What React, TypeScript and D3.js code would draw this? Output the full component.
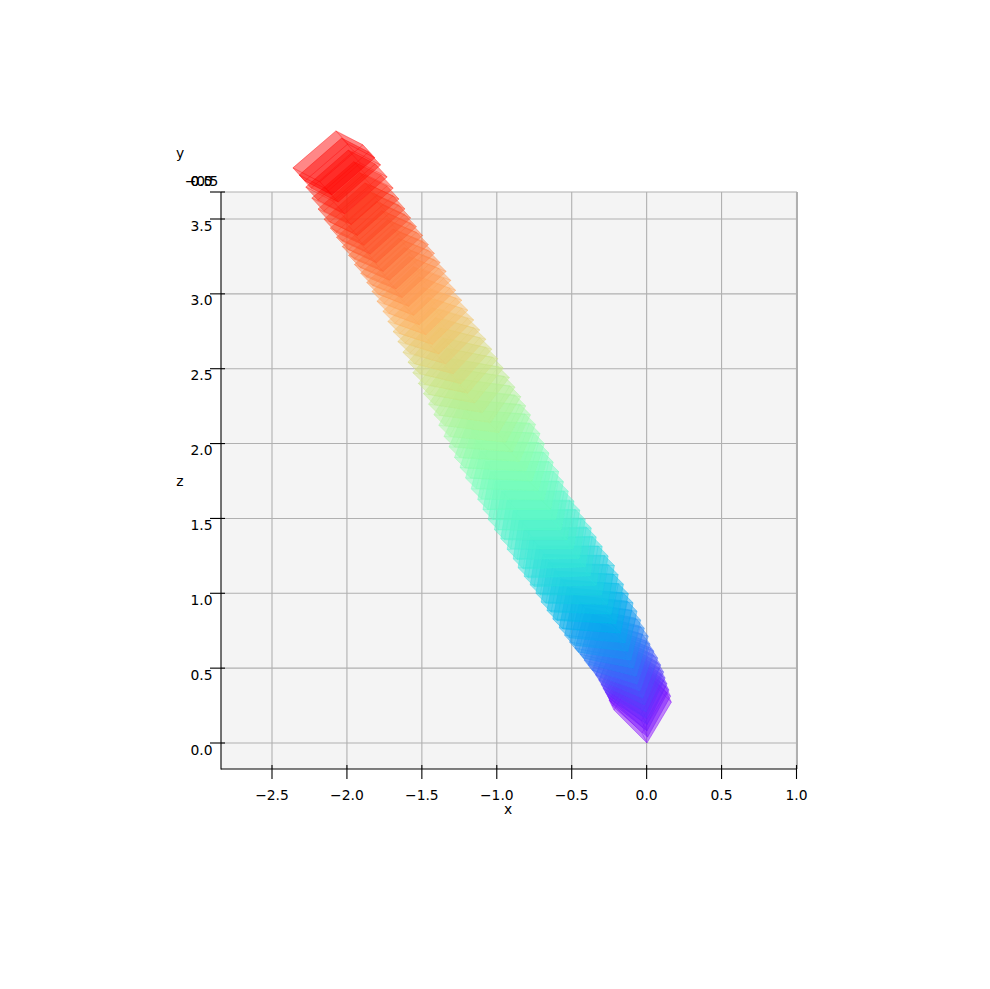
import React from "react";
import * as d3 from "d3";

const boxX = [-0.043,-0.05,-0.063,-0.077,-0.09,-0.103,-0.123,-0.143,-0.17,-0.197,-0.216,-0.247,-0.277,-0.306,-0.337,-0.374,-0.41,-0.447,-0.477,-0.517,-0.557,-0.597,-0.63,-0.67,-0.71,-0.75,-0.79,-0.824,-0.857,-0.897,-0.93,-0.964,-0.997,-1.03,-1.064,-1.097,-1.13,-1.167,-1.203,-1.24,-1.277,-1.313,-1.35,-1.387,-1.423,-1.46,-1.497,-1.537,-1.57,-1.603,-1.643,-1.683,-1.723,-1.763,-1.803,-1.843,-1.883,-1.923,-1.963,-2.003,-2.047,-2.087];
const boxZ = [0.28,0.313,0.347,0.38,0.413,0.447,0.487,0.527,0.567,0.607,0.653,0.7,0.747,0.8,0.853,0.913,0.973,1.033,1.093,1.153,1.213,1.273,1.333,1.393,1.46,1.52,1.587,1.653,1.72,1.787,1.853,1.92,1.987,2.053,2.12,2.187,2.253,2.32,2.387,2.453,2.52,2.587,2.653,2.72,2.787,2.853,2.92,2.987,3.053,3.113,3.173,3.233,3.293,3.353,3.413,3.473,3.533,3.6,3.673,3.747,3.827,3.875];
const edgePX = [0.163,0.153,0.147,0.133,0.127,0.117,0.107,0.1,0.093,0.087,0.08,0.073,0.067,0.06,0.053,0.053,0.05,0.047,0.047,0.043,0.04,0.04,0.04,0.04,0.043,0.047,0.047,0.05,0.053,0.063,0.073,0.083,0.093,0.107,0.12,0.133,0.147,0.163,0.18,0.19,0.2,0.207,0.217,0.227,0.233,0.237,0.24,0.243,0.247,0.25,0.253,0.257,0.26,0.263,0.267,0.27,0.273,0.277,0.28,0.283,0.283,0.287];
const edgePZ = [0.273,0.273,0.273,0.27,0.27,0.267,0.267,0.267,0.267,0.267,0.267,0.267,0.267,0.267,0.267,0.263,0.263,0.263,0.26,0.26,0.26,0.26,0.26,0.26,0.257,0.257,0.257,0.253,0.253,0.253,0.25,0.25,0.25,0.247,0.247,0.243,0.24,0.237,0.233,0.233,0.23,0.23,0.23,0.227,0.227,0.227,0.23,0.23,0.233,0.233,0.233,0.237,0.237,0.24,0.24,0.24,0.243,0.243,0.243,0.247,0.247,0.247];
const edgeQX = [0.22,0.233,0.24,0.253,0.26,0.273,0.28,0.287,0.293,0.3,0.32,0.333,0.347,0.36,0.373,0.384,0.393,0.4,0.41,0.41,0.414,0.414,0.414,0.414,0.417,0.417,0.42,0.42,0.42,0.417,0.414,0.41,0.407,0.4,0.387,0.374,0.36,0.34,0.32,0.304,0.287,0.273,0.257,0.24,0.226,0.217,0.207,0.203,0.2,0.2,0.197,0.197,0.193,0.193,0.187,0.187,0.187,0.183,0.183,0.18,0.18,0.18];
const edgeQZ = [-0.22,-0.207,-0.193,-0.173,-0.16,-0.147,-0.133,-0.12,-0.107,-0.093,-0.08,-0.067,-0.053,-0.04,-0.033,-0.027,-0.02,-0.013,-0.007,0,0.007,0.013,0.013,0.007,0,0,0,0,0,-0.007,-0.013,-0.02,-0.02,-0.027,-0.033,-0.04,-0.047,-0.05,-0.053,-0.057,-0.06,-0.067,-0.067,-0.073,-0.073,-0.073,-0.077,-0.077,-0.08,-0.08,-0.08,-0.08,-0.083,-0.083,-0.087,-0.087,-0.087,-0.09,-0.09,-0.093,-0.093,-0.093];
const edgeRX = [0.033,0.033,0.037,0.04,0.04,0.043,0.047,0.047,0.05,0.053,0.053,0.057,0.06,0.063,0.067,0.067,0.067,0.067,0.067,0.067,0.067,0.067,0.067,0.067,0.067,0.067,0.067,0.067,0.067,0.067,0.07,0.07,0.07,0.07,0.07,0.073,0.073,0.073,0.073,0.073,0.08,0.08,0.08,0.08,0.08,0.08,0.08,0.08,0.08,0.08,0.08,0.08,0.08,0.08,0.08,0.08,0.08,0.08,0.08,0.08,0.08,0.08];
const edgeRZ = [-0.067,-0.067,-0.067,-0.067,-0.067,-0.067,-0.067,-0.067,-0.067,-0.067,-0.067,-0.067,-0.067,-0.067,-0.067,-0.067,-0.067,-0.067,-0.067,-0.067,-0.067,-0.067,-0.067,-0.067,-0.067,-0.067,-0.067,-0.067,-0.067,-0.067,-0.07,-0.07,-0.07,-0.07,-0.07,-0.073,-0.073,-0.073,-0.073,-0.073,-0.077,-0.077,-0.077,-0.077,-0.077,-0.08,-0.08,-0.08,-0.08,-0.08,-0.083,-0.083,-0.083,-0.083,-0.083,-0.087,-0.087,-0.087,-0.087,-0.087,-0.087,-0.087];

const xTicks = [-2.5,-2,-1.5,-1,-0.5,0,0.5,1];
const zTicks = [0,0.5,1,1.5,2,2.5,3,3.5];
const yTickLabels = ["\u22120.5","0.0","0.5"];

const W = 990, H = 989;
const L = 221, R = 797, T = 192, B = 769;
const xScale = d3.scaleLinear().domain([-2.5,1.0]).range([272,796.5]);
const zScale = d3.scaleLinear().domain([0,3.5]).range([743,219]);
const rainbow = (t: number) => {
  const r = Math.min(1, Math.abs(2*t-0.5));
  const g = Math.sin(Math.PI*t);
  const b = Math.cos(Math.PI*t/2);
  return d3.rgb(r*255,g*255,b*255).formatHex();
};
const font = "'DejaVu Sans'";
const fs = 13.89;
const line = d3.line<[number,number]>().x(d=>xScale(d[0])).y(d=>zScale(d[1]));

export default function App() {
  const n = boxX.length;
  const faces: {d:string,c:string}[] = [];
  boxX.forEach((cx,i)=>{
    const e = [[edgePX[i],edgePZ[i]],[edgeQX[i],edgeQZ[i]],[edgeRX[i],edgeRZ[i]]];
    const c = rainbow(i/(n-1));
    [[0,1,2],[0,2,1],[1,2,0]].forEach(([u,v,w])=>{
      [-1,1].forEach(s=>{
        const ox = cx + s*e[w][0]/2, oz = boxZ[i] + s*e[w][1]/2;
        const pts: [number,number][] = [
          [ox-e[u][0]/2-e[v][0]/2, oz-e[u][1]/2-e[v][1]/2],
          [ox+e[u][0]/2-e[v][0]/2, oz+e[u][1]/2-e[v][1]/2],
          [ox+e[u][0]/2+e[v][0]/2, oz+e[u][1]/2+e[v][1]/2],
          [ox-e[u][0]/2+e[v][0]/2, oz-e[u][1]/2+e[v][1]/2],
        ];
        faces.push({d: line(pts)+"Z", c});
      });
    });
  });
  return (
    <svg width={W} height={H} style={{position:"absolute",left:0,top:0}} fontFamily={font} fontSize={fs} fill="#000">
      <rect width={W} height={H} fill="#fff"/>
      <rect x={L} y={T} width={R-L} height={B-T} fill="#f4f4f4"/>
      {xTicks.map(t=><line key={t} x1={xScale(t)} x2={xScale(t)} y1={T} y2={B} stroke="#b0b0b0" strokeWidth={1.1}/>)}
      {zTicks.map(t=><line key={t} x1={L} x2={R} y1={zScale(t)} y2={zScale(t)} stroke="#b0b0b0" strokeWidth={1.1}/>)}
      <line x1={L} x2={R} y1={T} y2={T} stroke="#b0b0b0" strokeWidth={1.2}/>
      <line x1={797} x2={797} y1={T} y2={B} stroke="#b0b0b0" strokeWidth={2}/>
      <line x1={L} x2={L} y1={T} y2={B+0.5} stroke="#000" strokeWidth={1.1}/>
      <line x1={L} x2={R} y1={B} y2={B} stroke="#000" strokeWidth={1.1}/>
      {xTicks.map(t=><line key={t} x1={xScale(t)} x2={xScale(t)} y1={765} y2={779} stroke="#000" strokeWidth={1.1}/>)}
      {zTicks.map(t=><line key={t} x1={210} x2={225} y1={zScale(t)} y2={zScale(t)} stroke="#000" strokeWidth={1.1}/>)}
      <line x1={210} x2={225} y1={T} y2={T} stroke="#000" strokeWidth={1.1}/>
      {faces.map((f,i)=><path key={i} d={f.d} fill={f.c} fillOpacity={0.27} stroke={f.c} strokeOpacity={0.3} strokeWidth={0.7}/>)}
      {xTicks.map(t=><text key={t} x={xScale(t)} y={800} textAnchor="middle">{t<0?"\u2212":""}{Math.abs(t).toFixed(1)}</text>)}
      {zTicks.map(t=><text key={t} x={201.5} y={zScale(t)+11.5} textAnchor="middle">{t.toFixed(1)}</text>)}
      {yTickLabels.map(t=><text key={t} x={201.5} y={186} textAnchor="middle">{t}</text>)}
      <text x={508} y={814} textAnchor="middle">x</text>
      <text x={180} y={158} textAnchor="middle">y</text>
      <text x={180} y={486} textAnchor="middle">z</text>
    </svg>
  );
}
